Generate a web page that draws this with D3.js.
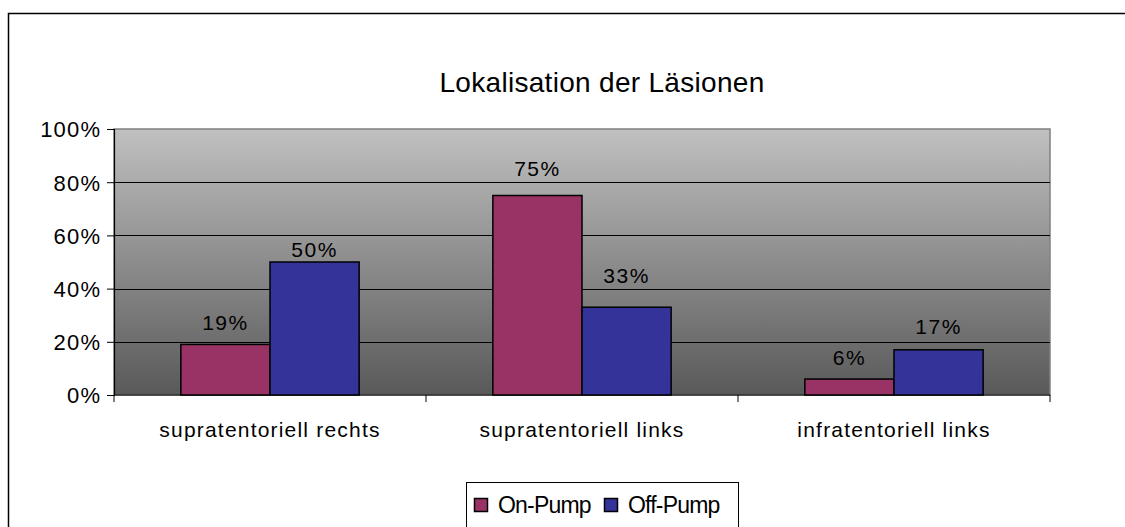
<!DOCTYPE html>
<html>
<head>
<meta charset="utf-8">
<script src="https://cdn.jsdelivr.net/npm/d3@7"></script>
<style>
  body { margin: 0; background: #fff; }
  text { font-family: "Liberation Sans", Arial, sans-serif; fill: #000; }
</style>
</head>
<body>
<div id="chart"></div>
<script>
var width  = 1125;
var height = 527;

// data
var categories = ["supratentoriell rechts", "supratentoriell links", "infratentoriell links"];
var seriesNames = ["On-Pump", "Off-Pump"];
var onPump  = [19, 75, 6];
var offPump = [50, 33, 17];
var yTicks  = [0, 20, 40, 60, 80, 100];
var colors  = ["#993366", "#333399"];
// gap between bar top and label baseline (labels were placed by hand in the original)
var labelGap = [[14, 5], [20, 24], [14, 16]];

var svg = d3.select("#chart")
    .append("svg")
    .attr("width", width)
    .attr("height", height);

// outer chart frame
svg.append("rect")
    .attr("x", 8.5).attr("y", 13.5)
    .attr("width", 1130).attr("height", 530)
    .attr("fill", "white")
    .attr("stroke", "#000")
    .attr("stroke-width", 1.5);

var plot = {left: 114, right: 1050, top: 129, bottom: 395};

var x0 = d3.scaleBand()
    .domain(categories)
    .range([plot.left, plot.right]);

var y = d3.scaleLinear()
    .domain([0, 100])
    .range([plot.bottom, plot.top]);

// background gradient
var grad = svg.append("defs").append("linearGradient")
    .attr("id", "bg")
    .attr("x1", 0).attr("y1", 0).attr("x2", 0).attr("y2", 1);
grad.append("stop").attr("offset", "0%").attr("stop-color", "#c0c0c0");
grad.append("stop").attr("offset", "100%").attr("stop-color", "#595959");

svg.append("rect")
    .attr("x", plot.left).attr("y", plot.top)
    .attr("width", plot.right - plot.left).attr("height", plot.bottom - plot.top)
    .attr("fill", "url(#bg)")
    .attr("stroke", "#808080")
    .attr("stroke-width", 1.5);

// gridlines
svg.append("g")
    .selectAll("line")
    .data(yTicks.slice(1, -1))
    .enter()
    .append("line")
    .attr("x1", plot.left).attr("x2", plot.right)
    .attr("y1", function(d) { return Math.round(y(d)) + 0.5; })
    .attr("y2", function(d) { return Math.round(y(d)) + 0.5; })
    .attr("stroke", "#000")
    .attr("stroke-width", 1);

// y axis
var yAxis = d3.axisLeft(y)
    .tickValues(yTicks)
    .tickSize(7)
    .tickPadding(7)
    .tickFormat(function(d) { return d + "%"; });

var gy = svg.append("g")
    .attr("transform", "translate(" + plot.left + ",0)")
    .call(yAxis);
gy.select(".domain").attr("stroke", "#000").attr("stroke-width", 1.2);
gy.selectAll(".tick line").attr("stroke", "#000");
gy.selectAll(".tick text")
    .style("font-size", "22px")
    .style("letter-spacing", "1.2px")
    .attr("dx", "1.2px")
    .attr("dy", "0.36em");

// x axis with ticks between categories
var gx = svg.append("g");
gx.append("line")
    .attr("x1", plot.left).attr("x2", plot.right)
    .attr("y1", plot.bottom).attr("y2", plot.bottom)
    .attr("stroke", "#000").attr("stroke-width", 1.2);
gx.selectAll("line.tk")
    .data(d3.range(categories.length + 1))
    .enter()
    .append("line")
    .attr("class", "tk")
    .attr("x1", function(i) { return plot.left + i * x0.bandwidth(); })
    .attr("x2", function(i) { return plot.left + i * x0.bandwidth(); })
    .attr("y1", plot.bottom).attr("y2", plot.bottom + 7)
    .attr("stroke", "#000");
gx.selectAll("text")
    .data(categories)
    .enter()
    .append("text")
    .attr("x", function(d) { return x0(d) + x0.bandwidth() / 2; })
    .attr("y", 437)
    .attr("text-anchor", "middle")
    .style("font-size", "21px")
    .style("letter-spacing", "1.2px")
    .text(function(d) { return d; });

// bars: 2 bars + gap of 1.5 bar widths per category
var barW = x0.bandwidth() / 3.5;
var x1 = d3.scaleBand()
    .domain(seriesNames)
    .range([0, barW * 2]);

var rows = categories.map(function(c, i) {
  return {cat: c, i: i, values: [onPump[i], offPump[i]]};
});

var groups = svg.selectAll("g.cat")
    .data(rows)
    .enter()
    .append("g")
    .attr("class", "cat")
    .attr("transform", function(d) {
      return "translate(" + (x0(d.cat) + barW * 0.75) + ",0)";
    });

function cells(d) {
  return d.values.map(function(v, j) {
    return {s: seriesNames[j], v: v, j: j, gap: labelGap[d.i][j]};
  });
}

groups.selectAll("rect")
    .data(cells)
    .enter()
    .append("rect")
    .attr("x", function(d) { return x1(d.s); })
    .attr("y", function(d) { return y(d.v); })
    .attr("width", x1.bandwidth())
    .attr("height", function(d) { return plot.bottom - y(d.v); })
    .attr("fill", function(d) { return colors[d.j]; })
    .attr("stroke", "#000")
    .attr("stroke-width", 1.5);

groups.selectAll("text")
    .data(cells)
    .enter()
    .append("text")
    .attr("x", function(d) { return x1(d.s) + x1.bandwidth() / 2; })
    .attr("y", function(d) { return y(d.v) - d.gap; })
    .attr("text-anchor", "middle")
    .style("font-size", "21px")
    .style("letter-spacing", "1.5px")
    .text(function(d) { return d.v + "%"; });

// title
svg.append("text")
    .attr("x", 602)
    .attr("y", 92)
    .attr("text-anchor", "middle")
    .style("font-size", "28px")
    .style("letter-spacing", "0.3px")
    .text("Lokalisation der Läsionen");

// legend
var leg = svg.append("g");
leg.append("rect")
    .attr("x", 466.5).attr("y", 482.5)
    .attr("width", 272).attr("height", 60)
    .attr("fill", "white")
    .attr("stroke", "#000");

var legX = [474, 604];
seriesNames.forEach(function(s, i) {
  leg.append("rect")
      .attr("x", legX[i] + 0.5).attr("y", 498.5)
      .attr("width", 13).attr("height", 13)
      .attr("fill", colors[i])
      .attr("stroke", "#000")
      .attr("stroke-width", 1.5);
  leg.append("text")
      .attr("x", legX[i] + 24)
      .attr("y", 513)
      .style("font-size", "23px")
      .style("letter-spacing", "-0.8px")
      .text(s);
});
</script>
</body>
</html>
